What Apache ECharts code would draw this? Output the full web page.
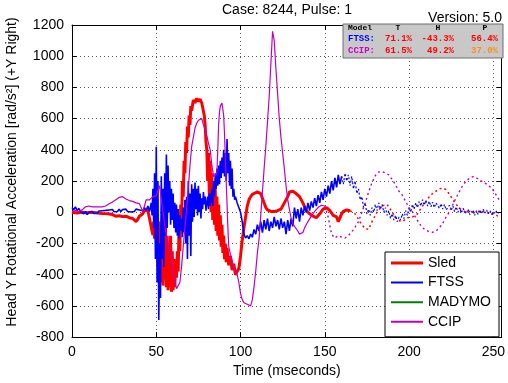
<!DOCTYPE html>
<html><head><meta charset="utf-8">
<script src="https://cdn.jsdelivr.net/npm/echarts@6/dist/echarts.min.js"></script>
<style>html,body{margin:0;padding:0;background:#fff}#c{width:508px;height:383px}</style>
</head><body><div id="c"></div>
<script>
// ---- data (time in ms, head Y rotational acceleration in rad/s^2) ----
const chartTitle = 'Case: 8244, Pulse: 1';
const versionText = 'Version: 5.0';
const xTicks = [0, 50, 100, 150, 200, 250];
const yTicks = [-800, -600, -400, -200, 0, 200, 400, 600, 800, 1000, 1200];
const seriesNames = ['Sled', 'FTSS', 'MADYMO', 'CCIP'];

const sledSolid = [[0,0],[3,-5],[6,0],[9,-3],[12,0],[15,-5],[18,-8],[21,-10],[24,-15],[26,-25],[28,-22],[30,-28],[32,-25],[34,-35],[36,-40],[37,-50],[38,-60],[39,-45],[40,-25],[41,-35],[42,-10],[43,15],[44,5],[45,10],[46,-40],[47,-95],[48,-145],[48.5,-60],[49,-170],[49.5,-20],
[50,-180],[50.5,-30],[51,-350],[51.5,-60],[52,-420],[52.5,-80],[53,-450],[53.5,-40],[54,-470],[54.5,-100],[55,-430],[55.5,-60],[56,-480],[56.5,-150],[57,-500],[57.5,-200],[58,-480],[58.5,-150],[59,-510],[59.5,-250],[60,-500],[60.5,-300],[61,-480],[61.5,-330],[62,-420],[62.5,-250],[63,-380],[63.5,-100],[64,-250],[64.5,50],[65,-100],[65.5,200],[66,100],[66.5,330],[67,250],[67.5,450],[68,380],[68.5,550],[69,480],[69.5,620],[70,560],[70.5,680],[71,650],[72,720],[73,700],[74,730],[75,710],[76,725],[77,700],[78,690],[78.5,620],[79,560],[79.5,450],
[80,400],[80.5,200],[81,380],[81.5,100],[82,330],[82.5,0],[83,250],[83.5,-50],[84,200],[84.5,-80],[85,150],[85.5,-120],[86,100],[86.5,-150],[87,50],[87.5,-180],[88,-20],[88.5,-220],[89,-80],[89.5,-260],[90,-150],[90.5,-300],[91,-200],[91.5,-320],[92,-230],[93,-340],[94,-280],[95,-370],[96,-330],[97,-400],[98,-380],[99,-360],[100,-280],[101,-180],[102,-100],[103,-30],[104,40],[105,80],[106,100],[107,115],[108,125],[110,130],[111,135],[112,120],[113,90],[114,60],[115,30],[116,15],[118,5],[120,5],[122,10],[124,20],[126,60],[128,100],[129,130],[131,135],[133,120],[135,100],[137,60],[139,10],[141,-10],[143,-25],[145,-35],[147,-10],[149,20],[151,30],[153,10],[155,-20],[157,-30],[158,-60],[159,-70],[160,-10],[161,5],[163,15],[165,10]];
const sledDotted = [[165,10],[168,-10],[170,-45],[172,-80],[174,-105],[176,-110],[178,-60],[181,0],[184,40],[187,50],[190,0],[193,-50],[196,-60],[199,-35],[202,-30],[205,-10],[208,40],[210,70],[212,100],[214,120],[216,135],[218,150],[220,155],[222,145],[224,115],[226,80],[228,50],[230,25],[232,10],[234,0],[236,5],[238,-5],[240,0],[242,10],[244,5],[246,-5],[248,0],[250,-15],[252,-20],[254,-35]];

const ftssSolid = [[0,30],[1,15],[2,35],[3,10],[4,25],[5,5],[6,15],[7,-10],[8,5],[9,-15],[10,0],[11,-10],[12,5],[13,-8],[14,3],[15,-5],[16,8],[17,-3],[18,10],[19,0],[20,12],[21,2],[22,15],[23,5],[24,18],[25,3],[26,15],[27,5],[28,20],[29,5],[30,18],[31,8],[32,20],[33,5],[34,15],[35,2],[36,12],[37,5],[38,20],[39,8],[40,15],[41,25],[42,10],[43,30],[44,10],[45,40],[46,5],[47,60],[47.5,-20],[48,150],[48.5,-100],[49,250],[49.5,-300],
[50,420],[50.5,-450],[51,200],[51.5,-690],[52,-200],[52.5,-550],[53,230],[53.5,-300],[54,150],[54.5,-350],[55,250],[55.5,-150],[56,370],[56.5,-100],[57,300],[57.5,0],[58,200],[58.5,-80],[59,150],[59.5,-50],[60,120],[60.5,-100],[61,60],[61.5,-130],[62,50],[62.5,-150],[63,20],[63.5,-170],[64,-20],[64.5,-120],[65,-40],[65.5,-160],[66,30],[66.5,-130],[67,80],[67.5,-200],[68,100],[68.5,-300],[69,200],[69.5,-150],[70,120],[70.5,-280],[71,180],[71.5,-60],[72,150],[72.5,-30],[73,190],[73.5,20],[74,150],[74.5,-20],[75,170],[75.5,0],[76,120],[76.5,-40],[77,90],[77.5,20],[78,130],[78.5,50],[79,100],[79.5,10],
[80,60],[80.5,100],[81,20],[81.5,120],[82,40],[82.5,90],[83,150],[83.5,40],[84,200],[84.5,100],[85,250],[85.5,150],[86,280],[86.5,170],[87,300],[87.5,180],[88,330],[88.5,220],[89,350],[89.5,250],[90,400],[90.5,230],[91,380],[91.5,200],[92,470],[92.5,250],[93,380],[93.5,170],[94,330],[94.5,150],[95,280],[95.5,100],[96,150],[96.5,80],[97,100],[98,60],[99,30],[100,0],[101,-60],[102,-140],[103,-165],[104,-150],[105,-170],[106,-140],[107,-160],[108,-110],[109,-140],[110,-80],[111,-120],[112,-60],[113,-130],[114,-50],[115,-110],[116,-40],[117,-120],[118,-60],[119,-100],[120,-30],[121,-90],[122,-50],[123,-110],[124,-40],[125,-100],[126,-60],[127,-140],[128,-50],[129,-120],[130,-40],[131,-90],[132,30],[133,-40],[134,20],[135,-60],[136,30],[137,-20],[138,40],[139,0],[140,60],[141,10],[142,70],[143,30],[144,90],[145,40],[146,110],[147,60],[148,130],[149,80],[150,150],[151,100],[152,170],[153,120],[154,200],[155,140],[156,220],[157,160],[158,240],[159,180],[160,230]];
const ftssDotted = [[160,230],[161,180],[162,250],[163,200],[164,240],[165,170],[166,230],[167,150],[168,200],[169,120],[170,150],[171,80],[172,100],[173,30],[174,60],[175,-10],[176,20],[177,-20],[178,30],[179,0],[180,50],[181,10],[182,60],[183,20],[184,50],[185,0],[186,30],[187,-20],[188,10],[189,-40],[190,-10],[191,-50],[192,-20],[193,-60],[194,-30],[195,-50],[196,-10],[197,-40],[198,10],[199,-20],[200,30],[201,0],[202,50],[203,20],[204,60],[205,30],[206,70],[207,40],[208,80],[209,45],[210,75],[211,40],[212,70],[213,35],[214,65],[215,30],[216,60],[218,25],[219,55],[220,20],[221,50],[222,15],[224,45],[225,10],[226,40],[227,5],[228,35],[229,0],[230,30],[231,-5],[232,25],[234,-10],[235,20],[236,-15],[238,15],[239,-20],[240,10],[241,-15],[242,15],[243,-10],[244,20],[245,-5],[246,15],[247,-10],[248,10],[249,-15],[250,5],[251,-10],[252,10],[253,-5],[254,5]];

const madymoData = [];

const ccipSolid = [[0,5],[2,10],[4,5],[6,15],[8,35],[9,45],[10,40],[11,30],[12,35],[13,40],[14,35],[15,30],[16,35],[17,38],[18,35],[20,40],[22,55],[24,65],[26,80],[28,95],[29,105],[30,100],[31,95],[32,85],[34,75],[36,70],[38,60],[40,55],[41,30],[42,5],[43,40],[44,80],[45,85],[46,80],[47,90],[48,100],[49,110],[50,105],[51,140],[52,170],[53,80],[54,0],[55,-80],[56,-150],[57,-200],[58,-250],[59,-300],[60,-380],[61,-440],[62,-490],[63,-470],[64,-450],[65,-350],[66,-220],[67,-100],[68,20],[69,150],[70,300],[71,420],[72,480],[73,540],[74,570],[75,590],[76,580],[77,600],[78,560],[79,530],[80,490],[81,440],[82,400],[83,300],[84,230],[85,220],[85.5,240],[86,260],[86.5,400],[87,560],[87.5,640],[88,680],[89,700],[90,620],[90.5,500],[91,350],[91.5,200],[92,50],[92.5,-100],[93,-220],[94,-270],[95,-310],[96,-350],[97,-380],[98,-400],[99,-450],[100,-520],[101,-560],[102,-580],[103,-570],[104,-590],[105,-580],[106,-600],[107,-560],[108,-480],[109,-380],[110,-260],[111,-170],[112,-20],[113,130],[114,280],[115,420],[116,580],[117,740],[118,950],[119,1160],[120,1100],[121,920],[122,760],[123,600],[124,480],[125,380],[126,280],[127,170],[128,80],[129,20],[130,-40],[131,-70],[132,-90],[133,-100],[134,-120],[135,-140],[136,-150],[137,-130],[138,-100],[139,-80],[140,-60],[142,-25],[144,5],[146,30],[148,45],[150,40]];
const ccipDotted = [[150,40],[152,-30],[154,-140],[156,-165],[158,-150],[160,-160],[162,-165],[164,-150],[166,-125],[168,-95],[170,-60],[172,0],[174,60],[176,130],[178,190],[180,235],[182,258],[184,260],[186,252],[188,240],[190,210],[192,175],[194,135],[196,110],[198,68],[200,30],[202,4],[204,-35],[206,-70],[208,-100],[210,-115],[212,-125],[214,-128],[216,-120],[218,-100],[220,-70],[222,-30],[224,4],[226,50],[228,95],[230,135],[232,175],[234,200],[236,220],[238,228],[240,220],[242,205],[244,192],[246,180],[248,163],[250,140],[252,105],[254,70]];

const tableHeader = ['Model', 'T', 'H', 'P'];
const tableRows = ['FTSS:', 'CCIP:'];
const ftssScores = ['71.1%', '-43.3%', '56.4%'];
const ccipScores = ['61.5%', '49.2%', '37.0%'];

// ---- styling ----
const C = { sled: '#ff0000', ftss: '#0000ff', madymo: '#008000', ccip: '#c000c0' };
const FONT = 'Liberation Sans, Arial, sans-serif';
const MONO = 'Liberation Mono, Courier New, monospace';
const gridLine = { show: true, lineStyle: { color: '#555', type: [1, 3], width: 1 } };

function iconPath(th) {
  const a = (14 - th) / 2, b = a + th;
  return 'path://M0,0L32,0L32,0.001Z M0,' + a + 'H32V' + b + 'H0Z M0,14L32,14L32,13.999Z';
}

const chart = echarts.init(document.getElementById('c'), null, { renderer: 'canvas' });

const xBase = { type: 'value', min: 0, max: 255, interval: 50,
  axisLine: { show: true, lineStyle: { color: '#000', width: 1 } },
  axisTick: { show: true, inside: true, length: 5, lineStyle: { color: '#000' } } };
const yBase = { type: 'value', min: -800, max: 1200, interval: 200,
  axisLine: { show: true, onZero: false, lineStyle: { color: '#000', width: 1 } },
  axisTick: { show: true, inside: true, length: 5, lineStyle: { color: '#000' } } };

chart.setOption({
  animation: false,
  backgroundColor: '#fff',
  textStyle: { fontFamily: FONT },
  grid: { left: 72, right: 6, top: 25, bottom: 43, containLabel: false },
  xAxis: [
    Object.assign({}, xBase, { position: 'bottom',
      name: 'Time (mseconds)', nameLocation: 'middle', nameGap: 25,
      nameTextStyle: { fontSize: 14, color: '#000', fontFamily: FONT },
      axisLine: { show: true, onZero: false, lineStyle: { color: '#000', width: 1 } },
      axisLabel: { show: true, fontSize: 14, color: '#000', margin: 8, fontFamily: FONT,
        formatter: v => xTicks.indexOf(v) >= 0 ? String(v) : '' },
      splitLine: gridLine }),
    Object.assign({}, xBase, { position: 'top', axisLabel: { show: false }, splitLine: { show: false },
      axisLine: { show: true, onZero: false, lineStyle: { color: '#000', width: 1 } } })
  ],
  yAxis: [
    Object.assign({}, yBase, { position: 'left',
      axisLabel: { show: true, fontSize: 14, color: '#000', margin: 8, fontFamily: FONT,
        formatter: v => yTicks.indexOf(v) >= 0 ? String(v) : '' },
      splitLine: gridLine }),
    Object.assign({}, yBase, { position: 'right', axisLabel: { show: false }, splitLine: { show: false } })
  ],
  legend: {
    orient: 'vertical', left: 385, top: 252,
    padding: [4, 8, 8, 6], itemGap: 5.6, itemWidth: 32, itemHeight: 14,
    backgroundColor: '#fff', borderColor: '#000', borderWidth: 1, borderRadius: 0,
    textStyle: { fontSize: 14, color: '#000', fontFamily: FONT },
    itemStyle: { borderWidth: 0 },
    data: [
      { name: seriesNames[0], icon: iconPath(3) },
      { name: seriesNames[1], icon: iconPath(2) },
      { name: seriesNames[2], icon: iconPath(2) },
      { name: seriesNames[3], icon: iconPath(2) }
    ]
  },
  series: [
    { name: 'Sled', type: 'line', data: sledSolid, showSymbol: false, symbol: 'none', color: C.sled,
      lineStyle: { color: C.sled, width: 3 }, z: 2 },
    { name: 'Sled', type: 'line', data: sledDotted, showSymbol: false, symbol: 'none', color: C.sled,
      lineStyle: { color: C.sled, width: 1.5, type: [2, 3] }, z: 2 },
    { name: 'FTSS', type: 'line', data: ftssSolid, showSymbol: false, symbol: 'none', color: C.ftss,
      lineStyle: { color: C.ftss, width: 1.6 }, z: 3 },
    { name: 'FTSS', type: 'line', data: ftssDotted, showSymbol: false, symbol: 'none', color: C.ftss,
      lineStyle: { color: C.ftss, width: 1.2, type: [2, 2] }, z: 3 },
    { name: 'MADYMO', type: 'line', data: madymoData, showSymbol: false, symbol: 'none', color: C.madymo,
      lineStyle: { color: C.madymo, width: 1.5 }, z: 3 },
    { name: 'CCIP', type: 'line', data: ccipSolid, showSymbol: false, symbol: 'none', color: C.ccip,
      lineStyle: { color: C.ccip, width: 1.2 }, z: 4 },
    { name: 'CCIP', type: 'line', data: ccipDotted, showSymbol: false, symbol: 'none', color: C.ccip,
      lineStyle: { color: C.ccip, width: 1.4, type: [2, 3] }, z: 4 }
  ],
  graphic: [
    { type: 'text', x: 287, y: 10, z: 99,
      style: { text: chartTitle, font: '14px ' + FONT, fill: '#000', align: 'center', verticalAlign: 'middle', textAlign: 'center', textVerticalAlign: 'middle' } },
    { type: 'text', x: 502, y: 18, z: 99,
      style: { text: versionText, font: '14px ' + FONT, fill: '#000', align: 'right', verticalAlign: 'middle', textAlign: 'right', textVerticalAlign: 'middle' } },
    { type: 'text', x: 12, y: 172, rotation: Math.PI / 2, z: 99,
      style: { text: 'Head Y Rotational Acceleration [rad/s²] (+Y Right)', font: '14px ' + FONT, fill: '#000', align: 'center', verticalAlign: 'middle', textAlign: 'center', textVerticalAlign: 'middle' } },
    { type: 'rect', shape: { x: 343, y: 24, width: 160, height: 34 }, z: 100,
      style: { fill: '#c8c8c8', stroke: '#6e6e6e', lineWidth: 1 } },
    // header
    { type: 'text', x: 348, y: 28, z: 101, style: { text: tableHeader[0], font: 'bold 8px ' + MONO, fill: '#000', align: 'left', verticalAlign: 'middle', textAlign: 'left', textVerticalAlign: 'middle' } },
    { type: 'text', x: 398, y: 28, z: 101, style: { text: tableHeader[1], font: 'bold 8px ' + MONO, fill: '#000', align: 'center', verticalAlign: 'middle', textAlign: 'center', textVerticalAlign: 'middle' } },
    { type: 'text', x: 438, y: 28, z: 101, style: { text: tableHeader[2], font: 'bold 8px ' + MONO, fill: '#000', align: 'center', verticalAlign: 'middle', textAlign: 'center', textVerticalAlign: 'middle' } },
    { type: 'text', x: 485, y: 28, z: 101, style: { text: tableHeader[3], font: 'bold 8px ' + MONO, fill: '#000', align: 'center', verticalAlign: 'middle', textAlign: 'center', textVerticalAlign: 'middle' } },
    // FTSS row
    { type: 'text', x: 348, y: 39, z: 101, style: { text: tableRows[0], font: 'bold 9px ' + MONO, fill: '#0000ff', align: 'left', verticalAlign: 'middle', textAlign: 'left', textVerticalAlign: 'middle' } },
    { type: 'text', x: 412, y: 39, z: 101, style: { text: ftssScores[0], font: 'bold 9px ' + MONO, fill: '#ff0000', align: 'right', verticalAlign: 'middle', textAlign: 'right', textVerticalAlign: 'middle' } },
    { type: 'text', x: 454, y: 39, z: 101, style: { text: ftssScores[1], font: 'bold 9px ' + MONO, fill: '#ff0000', align: 'right', verticalAlign: 'middle', textAlign: 'right', textVerticalAlign: 'middle' } },
    { type: 'text', x: 498, y: 39, z: 101, style: { text: ftssScores[2], font: 'bold 9px ' + MONO, fill: '#ff0000', align: 'right', verticalAlign: 'middle', textAlign: 'right', textVerticalAlign: 'middle' } },
    // CCIP row
    { type: 'text', x: 348, y: 50.5, z: 101, style: { text: tableRows[1], font: 'bold 9px ' + MONO, fill: '#cc00cc', align: 'left', verticalAlign: 'middle', textAlign: 'left', textVerticalAlign: 'middle' } },
    { type: 'text', x: 412, y: 50.5, z: 101, style: { text: ccipScores[0], font: 'bold 9px ' + MONO, fill: '#ff0000', align: 'right', verticalAlign: 'middle', textAlign: 'right', textVerticalAlign: 'middle' } },
    { type: 'text', x: 454, y: 50.5, z: 101, style: { text: ccipScores[1], font: 'bold 9px ' + MONO, fill: '#ff0000', align: 'right', verticalAlign: 'middle', textAlign: 'right', textVerticalAlign: 'middle' } },
    { type: 'text', x: 498, y: 50.5, z: 101, style: { text: ccipScores[2], font: 'bold 9px ' + MONO, fill: '#ff8c1a', align: 'right', verticalAlign: 'middle', textAlign: 'right', textVerticalAlign: 'middle' } }
  ]
});
</script></body></html>
